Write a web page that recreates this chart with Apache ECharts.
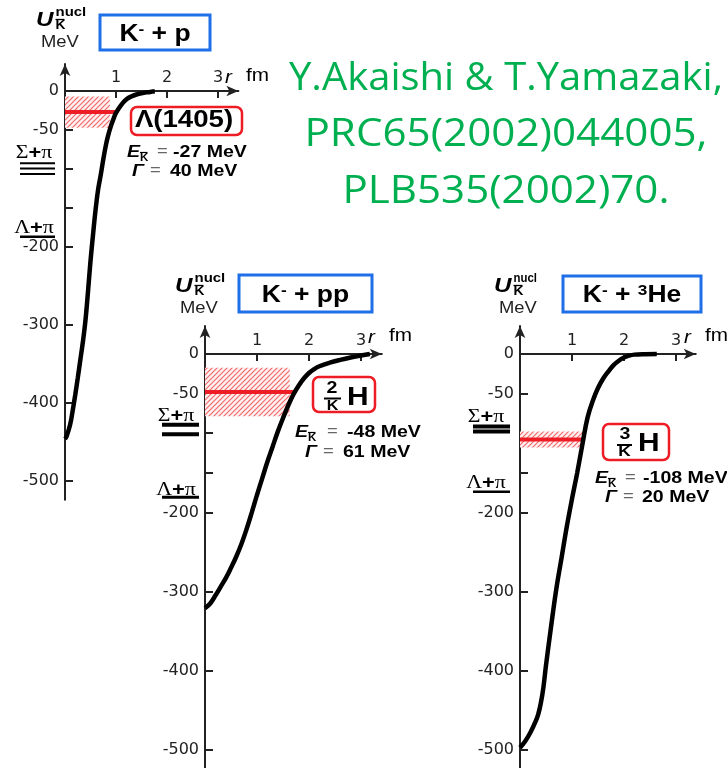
<!DOCTYPE html>
<html>
<head>
<meta charset="utf-8">
<script src="https://cdn.jsdelivr.net/npm/echarts@6.0.0/dist/echarts.min.js"></script>
<style>
html, body { margin: 0; padding: 0; background: #fff; }
#chart { width: 727px; height: 768px; }
</style>
</head>
<body>
<div id="chart"></div>
<script>
// Kbar-nucleus potentials U(r) (MeV vs fm) for K- + p, K- + pp and K- + 3He
const rKp  = [0, 0.03, 0.1, 0.15, 0.2, 0.25, 0.3, 0.35, 0.4, 0.45, 0.5, 0.55, 0.6, 0.65, 0.7, 0.75, 0.8, 0.85, 0.9, 0.95, 1.0, 1.1, 1.2, 1.3, 1.4, 1.5, 1.6, 1.7, 1.76];
const uKp  = [-446, -443, -428, -410, -390, -368, -345, -322, -295, -258, -218, -184, -152, -126, -108, -88, -70, -56, -45, -36, -28, -18, -11, -7, -4.5, -3, -1.8, -0.8, -0.3];
const rKpp = [0, 0.1, 0.2, 0.3, 0.4, 0.5, 0.6, 0.7, 0.8, 0.9, 1.0, 1.1, 1.2, 1.3, 1.4, 1.5, 1.6, 1.7, 1.8, 1.9, 2.0, 2.1, 2.2, 2.4, 2.6, 2.8, 3.0, 3.17];
const uKpp = [-321, -315, -305, -294, -283, -270, -256, -240, -221, -200, -178, -157, -136, -117, -98, -81, -65, -51, -40, -31, -24, -19, -15.5, -11, -7.5, -4.5, -2, 0];
const rKHe = [0, 0.1, 0.2, 0.3, 0.35, 0.4, 0.45, 0.5, 0.6, 0.7, 0.8, 0.9, 1.0, 1.1, 1.2, 1.3, 1.4, 1.5, 1.6, 1.7, 1.8, 1.9, 2.0, 2.1, 2.2, 2.4, 2.63];
const uKHe = [-497, -489, -478, -464, -455, -441, -421, -393, -343, -296, -257, -218, -183, -150, -114, -80, -59, -43, -31, -22, -14, -8.5, -4.5, -2, -0.8, -0.2, 0];

// Bound states: energy and width (MeV), and the r range (fm) of level line and width band
const E_LEVEL = [-27, -48, -108];
const GAMMA   = [40, 61, 20];
const LEVEL_R = [1.0, 1.75, 1.22];
const BAND_R  = [0.88, 1.63, 1.22];

// Decay thresholds marked beside each energy axis (MeV)
const SIGMA_PI  = [-99.4, -95.3, -94.7];
const LAMBDA_PI = [-186.8, -181, -174];

const X_TICKS  = [1, 2, 3];
const Y_TICKS  = [0, -50, -100, -150, -200, -300, -400, -500];
const Y_LABELS = [0, -50, -200, -300, -400, -500];

const CURVES = [[rKp, uKp], [rKpp, uKpp], [rKHe, uKHe]];

// Panel geometry: origin pixel, px per fm, px per MeV, axis extents
const PANELS = [
  { x0: 65,  y0: 91,  fm: 51, mev: 0.78,  xMax: 3.4,  yMax: 34.6, yMin: -524 },
  { x0: 205, y0: 354, fm: 52, mev: 0.792, xMax: 3.4,  yMax: 35.4, yMin: -523 },
  { x0: 520, y0: 354, fm: 52, mev: 0.792, xMax: 3.38, yMax: 35.4, yMin: -523 }
];

const SANS  = '"Liberation Sans", Arial, sans-serif';
const SERIF = '"Liberation Serif", "Times New Roman", serif';
const AXIS_FONT = '"DejaVu Sans", sans-serif';
const RED = '#ee1c25';
const BLUE = '#1f6fe8';
const GREEN = '#00b050';
const SX = 1.15;

function hatchPattern() {
  const c = document.createElement('canvas');
  c.width = 5; c.height = 5;
  const g = c.getContext('2d');
  g.fillStyle = '#fff1f1';
  g.fillRect(0, 0, 5, 5);
  g.strokeStyle = '#f26a6a';
  g.lineWidth = 1.2;
  g.beginPath();
  g.moveTo(0, 5); g.lineTo(5, 0);
  g.moveTo(-1, 1); g.lineTo(1, -1);
  g.moveTo(4, 6); g.lineTo(6, 4);
  g.stroke();
  return c;
}
const HATCH = { image: hatchPattern(), repeat: 'repeat' };

const chart = echarts.init(document.getElementById('chart'), null, { renderer: 'canvas' });

const axisLineStyle = { color: '#222', width: 2 };
const option = {
  animation: false,
  backgroundColor: '#fff',
  grid: PANELS.map(p => ({
    left: p.x0, top: p.y0 - p.yMax * p.mev,
    width: p.xMax * p.fm, height: (p.yMax - p.yMin) * p.mev,
    containLabel: false, outerBoundsMode: 'none'
  })),
  // the r axis sits on U = 0: lift it from the grid bottom by the negative range
  xAxis: PANELS.map((p, i) => ({
    gridIndex: i, type: 'value', min: 0, max: p.xMax,
    position: 'bottom', offset: p.yMin * p.mev,
    axisLine: { onZero: false, symbol: ['none', 'arrow'], symbolSize: [8, 12], lineStyle: axisLineStyle },
    axisTick: { show: true, customValues: X_TICKS, length: 7, lineStyle: axisLineStyle },
    axisLabel: { customValues: X_TICKS, inside: true, margin: 5, fontFamily: AXIS_FONT, fontSize: 16, color: '#222' },
    splitLine: { show: false }
  })),
  yAxis: PANELS.map((p, i) => ({
    gridIndex: i, type: 'value', min: p.yMin, max: p.yMax,
    axisLine: { show: true, onZero: false, symbol: ['none', 'arrow'], symbolSize: [8, 12], lineStyle: axisLineStyle },
    axisTick: { show: true, inside: true, customValues: Y_TICKS, length: 8, lineStyle: axisLineStyle },
    axisLabel: { customValues: Y_LABELS, margin: 6, fontFamily: AXIS_FONT, fontSize: 16, color: '#222' },
    splitLine: { show: false }
  })),
  series: []
};

CURVES.forEach((c, i) => {
  option.series.push({
    type: 'line', xAxisIndex: i, yAxisIndex: i, silent: true,
    data: c[0].map((r, k) => [r, c[1][k]]),
    showSymbol: false, smooth: 0.4,
    lineStyle: { color: '#000', width: 4.5 }, z: 5
  });
  option.series.push({
    type: 'line', xAxisIndex: i, yAxisIndex: i, silent: true,
    data: [[0, E_LEVEL[i]], [LEVEL_R[i], E_LEVEL[i]]],
    showSymbol: false, lineStyle: { color: RED, width: 4 }, z: 4,
    markArea: {
      silent: true,
      itemStyle: { color: HATCH },
      data: [[
        { coord: [0, E_LEVEL[i] + GAMMA[i] / 2] },
        { coord: [BAND_R[i], E_LEVEL[i] - GAMMA[i] / 2] }
      ]]
    }
  });
});

chart.setOption(option);

// ---------- annotation text ----------
const mctx = document.createElement('canvas').getContext('2d');
function textWidth(t, size, family, weight, italic) {
  mctx.font = (italic ? 'italic ' : '') + (weight || 'normal') + ' ' + size + 'px ' + family;
  return mctx.measureText(t).width;
}
function label(x, y, text, size, o) {
  o = o || {};
  return {
    type: 'text', x: x, y: y, z: 100, silent: true,
    scaleX: o.sx == null ? SX : o.sx,
    style: {
      text: text, fontSize: size, fontFamily: o.family || SANS,
      fontWeight: o.weight || 'normal', fontStyle: o.italic ? 'italic' : 'normal',
      fill: o.color || '#000', align: o.align || 'left', verticalAlign: 'middle'
    }
  };
}
function rule(x1, x2, y, w, color) {
  return { type: 'line', z: 100, silent: true, shape: { x1: x1, y1: y, x2: x2, y2: y }, style: { stroke: color || '#000', lineWidth: w } };
}
function box(x, y, w, h, color, r, lw) {
  return { type: 'rect', z: 90, silent: true, shape: { x: x, y: y, width: w, height: h, r: r }, style: { fill: 'none', stroke: color, lineWidth: lw } };
}
// a run of text pieces centred on cx
function run(cx, y, pieces) {
  const ws = pieces.map(p => textWidth(p.t, p.size, p.family || SANS, p.weight, p.italic) * SX + (p.gap || 0));
  let x = cx - ws.reduce((a, b) => a + b, 0) / 2;
  return pieces.map((p, k) => {
    const el = label(x, y + (p.dy || 0), p.t, p.size, p);
    x += ws[k];
    return el;
  });
}
function potentialLabel(x, y, nuclSize, nuclSx) {
  return [
    label(x, y, 'U', 21, { weight: 'bold', italic: true }),
    label(x + 19.5, y - 8, 'nucl', nuclSize, { weight: 'bold', sx: nuclSx }),
    label(x + 19.5, y + 5.5, 'K', 12, { weight: 'bold' }),
    rule(x + 19.5, x + 28.5, y - 1, 1.3),
    label(x + 5, y + 22.5, 'MeV', 16, { color: '#222' })
  ];
}
function eRow(x, y, val, eqDx, valDx) {
  return [
    label(x, y, 'E', 17, { weight: 'bold', italic: true }),
    label(x + 13, y + 6, 'K', 10, { weight: 'bold' }),
    rule(x + 13, x + 20.5, y + 0.5, 1.2),
    label(x + eqDx, y, '=', 16, { color: '#666' }),
    label(x + valDx, y, val, 17, { weight: 'bold' })
  ];
}
function gRow(x, y, val, eqDx, valDx) {
  return [
    label(x, y, 'Γ', 17, { weight: 'bold', italic: true }),
    label(x + eqDx, y, '=', 16, { color: '#666' }),
    label(x + valDx, y, val, 17, { weight: 'bold' })
  ];
}
function rLabel(x, y) {
  return [
    label(x, y, 'r', 18, { italic: true }),
    label(x + 21, y - 1, 'fm', 18)
  ];
}
function reaction(x, y, first) {
  return run(x, y, [
    { t: first, size: 19, family: SERIF },
    { t: '+', size: 19, weight: 'bold' },
    { t: 'π', size: 19, family: SERIF }
  ]);
}
const big = { size: 23, weight: 'bold' };
const sup = { size: 15, weight: 'bold', dy: -5 };
const piece = (t, s) => Object.assign({ t: t }, s);

const g = [];

// system names
g.push(box(100, 15, 110, 35, BLUE, 0, 3));
g.push(...run(155, 35, [piece('K', big), piece('-', sup), piece(' + p', big)]));
g.push(box(239, 275, 133, 37, BLUE, 0, 3));
g.push(...run(305.5, 296, [piece('K', big), piece('-', sup), piece(' + pp', big)]));
g.push(box(563, 276, 138, 36, BLUE, 0, 3));
g.push(...run(632, 296, [piece('K', big), piece('-', sup), piece(' + ', big), piece('3', sup), piece('He', big)]));

// axis titles
g.push(...potentialLabel(36, 20.5, 13, SX));
g.push(...potentialLabel(175, 286.5, 13, SX));
g.push(...potentialLabel(494, 286.5, 12, 0.95));
g.push(...rLabel(225, 77.5));
g.push(...rLabel(368, 337.5));
g.push(...rLabel(684, 337.5));

// state names
g.push(box(131, 107, 111, 28, RED, 6, 2.5));
g.push(label(184, 120.5, 'Λ(1405)', 24, { weight: 'bold', align: 'center' }));

g.push(box(313, 377, 62, 35, RED, 6, 2.5));
g.push(label(332, 388.5, '2', 17, { weight: 'bold', align: 'center' }));
g.push(rule(324, 341, 398.5, 2));
g.push(label(332.5, 406.5, 'K', 14, { weight: 'bold', align: 'center' }));
g.push(label(347, 397.5, 'H', 26, { weight: 'bold' }));

g.push(box(603, 424, 66, 36, RED, 6, 2.5));
g.push(label(625, 434, '3', 17, { weight: 'bold', align: 'center' }));
g.push(rule(617, 632, 445, 2));
g.push(label(624.5, 452, 'K', 15, { weight: 'bold', align: 'center' }));
g.push(label(638, 444, 'H', 26, { weight: 'bold' }));

// energies and widths
g.push(...eRow(127, 152, E_LEVEL[0] + ' MeV', 30, 46));
g.push(...gRow(132, 171, GAMMA[0] + ' MeV', 18, 38));
g.push(...eRow(295, 432, E_LEVEL[1] + ' MeV', 32, 52));
g.push(...gRow(305, 452, GAMMA[1] + ' MeV', 18, 38));
g.push(...eRow(595, 478, E_LEVEL[2] + ' MeV', 30, 48));
g.push(...gRow(605, 497, GAMMA[2] + ' MeV', 18, 37));

// thresholds beside each energy axis
const thr = [
  { tx: 34, sDy: -15.5, sLines: [-5.2, 0, 5.5], sW: 2, lx: [20, 55], lDy: -9, lW: 2.5 },
  { tx: 176, sDy: -13.7, sLines: [-4.75, 4.75], sW: 4, lx: [162, 199], lDy: -7.5, lW: 3 },
  { tx: 486, sDy: -12, sLines: [-2.5, 2.5], sW: 4, lx: [473, 510], lDy: -9, lW: 2.5 }
];
thr.forEach((t, i) => {
  const ys = chart.convertToPixel({ gridIndex: i }, [0, SIGMA_PI[i]])[1];
  const yl = chart.convertToPixel({ gridIndex: i }, [0, LAMBDA_PI[i]])[1];
  g.push(...reaction(t.tx, ys + t.sDy, 'Σ'));
  t.sLines.forEach(d => g.push(rule(t.lx[0], t.lx[1], ys + d, t.sW)));
  g.push(...reaction(t.tx, yl + t.lDy, 'Λ'));
  g.push(rule(t.lx[0], t.lx[1], yl, t.lW));
});

// reference lines
const REF_LINES = ['Y.Akaishi & T.Yamazaki,', 'PRC65(2002)044005,', 'PLB535(2002)70.'];
const REF_W = [434, 403, 327];
const REF_Y = [79, 135, 192];
REF_LINES.forEach((s, k) => {
  const w = textWidth(s, 39, '"Open Sans"', 'normal', false);
  g.push(label(506, REF_Y[k], s, 39, { family: '"Open Sans", sans-serif', color: GREEN, align: 'center', sx: REF_W[k] / w }));
});

chart.setOption({ graphic: { elements: g } });
</script>
</body>
</html>
